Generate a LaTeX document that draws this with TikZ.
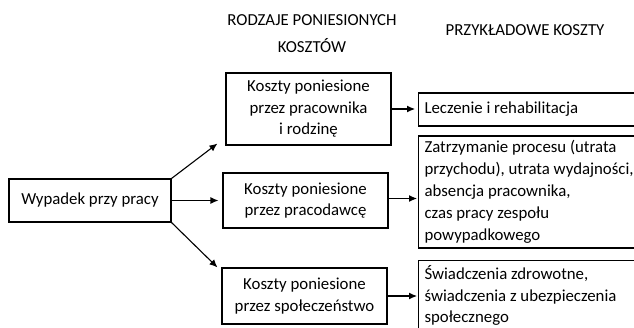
\documentclass[tikz,border=0pt]{standalone}
\usepackage{fontspec}
\setmainfont{Carlito}
\usetikzlibrary{arrows.meta}

\tikzset{
  box/.style={draw, line width=1.1pt, align=center, inner sep=0pt,
    font=\fontsize{16.8}{21.5}\selectfont},
  costbox/.style={draw, line width=1.1pt, align=flush left, anchor=west,
    inner xsep=6pt, inner ysep=0pt, text width=226pt,
    font=\fontsize{16.8}{22}\selectfont},
  head/.style={align=center, font=\fontsize{16.8}{27}\selectfont},
  arrow/.style={->, line width=1.1pt},
  >={Latex[length=8pt,width=7pt]}
}

\begin{document}
\begin{tikzpicture}[x=1pt,y=-1pt]
	\useasboundingbox (0,0) rectangle (634,327);
	\clip (0,0) rectangle (634,327);
	% column headings
	\node[head] (rodzaje) at (312,34) {RODZAJE PONIESIONYCH\\KOSZTÓW};
	\node[head] (przyklad) at (525,30) {PRZYKŁADOWE KOSZTY};
	% accident and kinds of costs
	\node[box, minimum width=162pt, minimum height=43pt] (wypadek) at (90,200.5) {Wypadek przy pracy};
	\node[box, minimum width=165pt, minimum height=72pt] (pracownik) at (308.5,109) {Koszty poniesione\\przez pracownika\\i rodzinę};
	\node[box, minimum width=165pt, minimum height=55pt] (pracodawca) at (305.5,200.5) {Koszty poniesione\\przez pracodawcę};
	\node[box, minimum width=165pt, minimum height=56pt] (spoleczenstwo) at (304.5,296) {Koszty poniesione\\przez społeczeństwo};
	% example costs
	\node[costbox, minimum height=33pt] (leczenie) at (418,109.5) {Leczenie i rehabilitacja};
	\node[costbox, minimum height=112pt] (zatrzymanie) at (418,192) {Zatrzymanie procesu (utrata\\przychodu), utrata wydajności,\\absencja pracownika,\\czas pracy zespołu\\powypadkowego};
	\node[costbox, anchor=north west, inner ysep=5pt, font=\fontsize{16.8}{21.5}\selectfont] (swiadczenia) at (418,260) {Świadczenia zdrowotne,\\świadczenia z ubezpieczenia\\społecznego};
	% arrows
	\draw[arrow] (wypadek.north east) -- ([xshift=-8pt,yshift=2pt]pracownik.south west);
	\draw[arrow] (wypadek.east) -- ([xshift=-4pt]pracodawca.west);
	\draw[arrow] (wypadek.south east) -- ([xshift=-4pt]spoleczenstwo.north west);
	\draw[arrow] (pracownik.east) -- ([xshift=-3pt]pracownik.east -| leczenie.west);
	\draw[arrow] ([yshift=2pt]pracodawca.east) -- ([xshift=-1pt,yshift=2pt]pracodawca.east -| zatrzymanie.west);
	\draw[arrow] (spoleczenstwo.east) -- ([xshift=-1pt]spoleczenstwo.east -| swiadczenia.west);
\end{tikzpicture}
\end{document}
